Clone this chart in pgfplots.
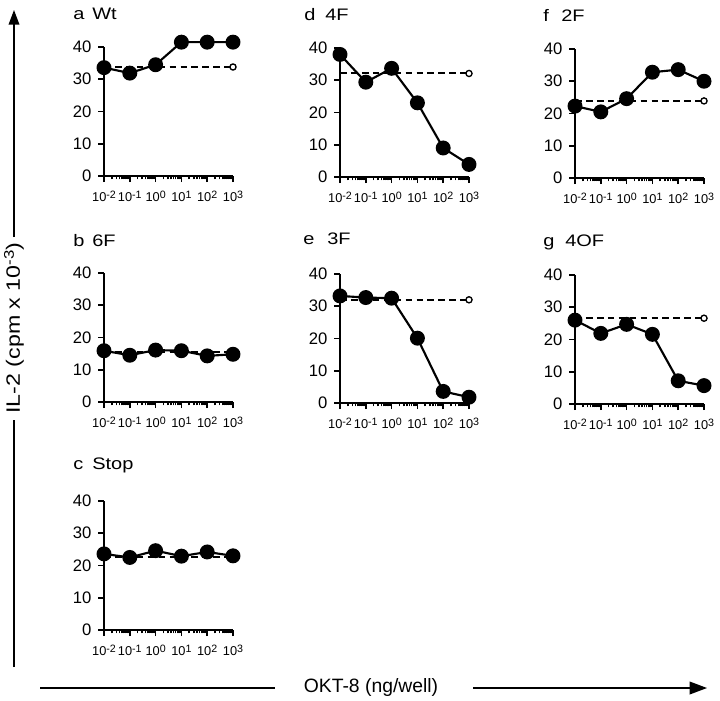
\documentclass[border=0pt]{standalone}
\usepackage{fontspec}
\setmainfont{Liberation Sans}
\newfontfamily\wide[FakeStretch=1.2]{Liberation Sans}
\usepackage{pgfplots}
\pgfplotsset{compat=1.18}
\usetikzlibrary{arrows.meta}

% decade label with a large raised exponent, as in the figure
\newcommand\ee[1]{10\raisebox{0.55ex}{\fontsize{8}{9}\selectfont#1}}

% 1 px of the reference = 0.75pt
\pgfplotsset{
  panel/.style={
    scale only axis, width=96.75pt, height=96.75pt,
    anchor=south west, clip=false,
    xmin=0.01, xmax=1000, ymin=0, ymax=40,
    axis x line*=bottom, axis y line*=left,
    axis line style={line width=1.5pt},
    xtick={0.01,0.1,1,10,100,1000},
    xticklabels={\ee{-2},\ee{-1},\ee{0},\ee{1},\ee{2},\ee{3}},
    ytick={0,10,20,30,40},
    tick align=outside,
    major tick length=4.5pt, minor tick length=2.5pt,
    tick style={black, line width=1.2pt},
    /pgf/number format/assume math mode=true,
    yticklabel style={font=\fontsize{12.5}{13}\selectfont, xshift=-1.5pt},
    xticklabel style={font=\fontsize{9.6}{11}\selectfont, inner xsep=0pt, yshift=-3pt},
  },
  ctrl/.style={black, line width=1.5pt, dash pattern=on 5pt off 3.2pt,
    mark=*, mark indices={2}, mark options={solid, fill=white, line width=1pt, mark size=2.3pt}},
  obs/.style={black, line width=1.6pt, mark=*, mark size=4.8pt, mark options={solid}},
}
\tikzset{ttl/.style={anchor=base west, inner sep=0pt, font=\wide\fontsize{12.5}{14}\selectfont}}

\begin{document}
\begin{tikzpicture}
\useasboundingbox (0,0) rectangle (540pt,-525pt);

% a Wt
\begin{semilogxaxis}[panel, at={({104*0.75pt},{-176*0.75pt})}]
\addplot[ctrl] coordinates {(0.01,33.8) (1000,33.8)};
\addplot[obs] coordinates {(0.01,33.6) (0.1,31.9) (1,34.5) (10,41.5) (100,41.5) (1000,41.5)};
\end{semilogxaxis}

% b 6F
\begin{semilogxaxis}[panel, at={({104*0.75pt},{-402*0.75pt})}]
\addplot[ctrl] coordinates {(0.01,15.6) (1000,15.6)};
\addplot[obs] coordinates {(0.01,15.9) (0.1,14.5) (1,16.1) (10,15.9) (100,14.3) (1000,14.8)};
\end{semilogxaxis}

% c Stop
\begin{semilogxaxis}[panel, at={({104*0.75pt},{-630*0.75pt})}]
\addplot[ctrl] coordinates {(0.01,22.5) (1000,22.5)};
\addplot[obs] coordinates {(0.01,23.6) (0.1,22.5) (1,24.6) (10,22.9) (100,24.2) (1000,23.0)};
\end{semilogxaxis}

% d 4F
\begin{semilogxaxis}[panel, at={({340*0.75pt},{-177*0.75pt})}]
\addplot[ctrl] coordinates {(0.01,32.1) (1000,32.1)};
\addplot[obs] coordinates {(0.01,38.0) (0.1,29.4) (1,33.7) (10,23.0) (100,9.0) (1000,3.9)};
\end{semilogxaxis}

% e 3F
\begin{semilogxaxis}[panel, at={({340*0.75pt},{-403*0.75pt})}]
\addplot[ctrl] coordinates {(0.01,32.0) (1000,32.0)};
\addplot[obs] coordinates {(0.01,33.2) (0.1,32.7) (1,32.5) (10,20.1) (100,3.6) (1000,1.8)};
\end{semilogxaxis}

% f 2F
\begin{semilogxaxis}[panel, at={({575*0.75pt},{-178*0.75pt})}]
\addplot[ctrl] coordinates {(0.01,23.9) (1000,23.9)};
\addplot[obs] coordinates {(0.01,22.3) (0.1,20.5) (1,24.6) (10,32.8) (100,33.6) (1000,30.0)};
\end{semilogxaxis}

% g 4OF
\begin{semilogxaxis}[panel, at={({575*0.75pt},{-404*0.75pt})}]
\addplot[ctrl] coordinates {(0.01,26.6) (1000,26.6)};
\addplot[obs] coordinates {(0.01,26.0) (0.1,21.9) (1,24.7) (10,21.6) (100,7.2) (1000,5.7)};
\end{semilogxaxis}

% panel titles: letter and name
\node[ttl] at ({73*0.75pt},{-19*0.75pt}) {a};   \node[ttl] at ({92*0.75pt},{-19*0.75pt}) {Wt};
\node[ttl] at ({73*0.75pt},{-246*0.75pt}) {b};  \node[ttl] at ({92*0.75pt},{-246*0.75pt}) {6F};
\node[ttl] at ({73*0.75pt},{-469*0.75pt}) {c};  \node[ttl] at ({92*0.75pt},{-469*0.75pt}) {Stop};
\node[ttl] at ({304*0.75pt},{-20*0.75pt}) {d};  \node[ttl] at ({325*0.75pt},{-20*0.75pt}) {4F};
\node[ttl] at ({303*0.75pt},{-244*0.75pt}) {e}; \node[ttl] at ({327*0.75pt},{-244*0.75pt}) {3F};
\node[ttl] at ({543*0.75pt},{-21*0.75pt}) {f};  \node[ttl] at ({561*0.75pt},{-21*0.75pt}) {2F};
\node[ttl] at ({543*0.75pt},{-246*0.75pt}) {g}; \node[ttl] at ({565*0.75pt},{-246*0.75pt}) {4OF};

% shared axis labels with arrows
\draw[line width=1.1pt] ({14*0.75pt},{-667*0.75pt}) -- ({14*0.75pt},{-420*0.75pt});
\draw[line width=1.1pt, -{Triangle[length=11pt,width=8pt]}] ({14*0.75pt},{-237*0.75pt}) -- ({14*0.75pt},{-10*0.75pt});
\node[rotate=90, font=\wide\fontsize{14.5}{16}\selectfont] at ({14*0.75pt},{-328*0.75pt}) {IL-2 (cpm x 10\raisebox{0.6ex}{\fontsize{10.5}{11}\selectfont-3})};
\draw[line width=1.1pt] ({40*0.75pt},{-688*0.75pt}) -- ({275*0.75pt},{-688*0.75pt});
\draw[line width=1.1pt, -{Triangle[length=13pt,width=9.5pt]}] ({473*0.75pt},{-688*0.75pt}) -- ({707*0.75pt},{-688*0.75pt});
\node[font=\fontsize{14.5}{16}\selectfont] at ({371*0.75pt},{-687*0.75pt}) {OKT-8 (ng/well)};
\end{tikzpicture}
\end{document}
